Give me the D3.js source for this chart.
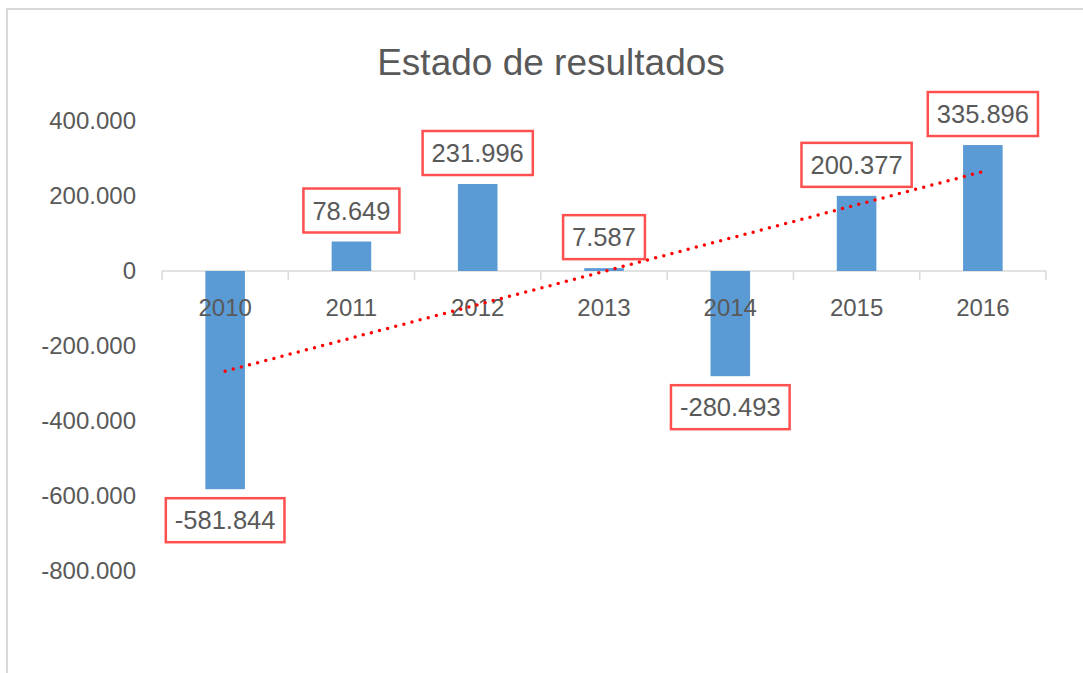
<!DOCTYPE html>
<html>
<head>
<meta charset="utf-8">
<script src="https://cdn.jsdelivr.net/npm/d3@7"></script>
<style>
  body { margin: 0; background: #fff; }
  text { font-family: "Liberation Sans", Arial, sans-serif; fill: #595959; }
</style>
</head>
<body>
<div id="graf"></div>
<script>
const anios = ["2010", "2011", "2012", "2013", "2014", "2015", "2016"]
const resultados = [-581844, 78649, 231996, 7587, -280493, 200377, 335896]
const ticksY = [400000, 200000, 0, -200000, -400000, -600000, -800000]

const anchoTotal = 1083
const altoTotal = 673

const svg = d3
  .select("#graf")
  .append("svg")
  .attr("width", anchoTotal)
  .attr("height", altoTotal)

svg
  .append("rect")
  .attr("width", anchoTotal)
  .attr("height", altoTotal)
  .attr("fill", "white")

// borde del area del grafico (se corta a la derecha y abajo)
svg
  .append("rect")
  .attr("x", 7)
  .attr("y", 9)
  .attr("width", 1200)
  .attr("height", 800)
  .attr("fill", "none")
  .attr("stroke", "#d9d9d9")
  .attr("stroke-width", 2)

svg
  .append("text")
  .attr("x", 551)
  .attr("y", 75)
  .attr("text-anchor", "middle")
  .attr("font-size", 37)
  .text("Estado de resultados")

const es = d3.formatLocale({
  decimal: ",",
  thousands: ".",
  grouping: [3],
  currency: ["", ""],
  minus: "-",
})
const fmt = es.format(",d")

const x = d3
  .scaleBand()
  .domain(anios)
  .range([162, 1046])
  .paddingInner(2.19 / 3.19)
  .paddingOuter(2.19 / 3.19 / 2)

const y = d3.scaleLinear().domain([-800000, 400000]).range([571, 121])

// eje Y (solo etiquetas)
const ejeY = svg
  .append("g")
  .attr("transform", "translate(136,0)")
  .call(d3.axisLeft(y).tickValues(ticksY).tickFormat(fmt).tickSize(0).tickPadding(0))
ejeY.select(".domain").remove()
ejeY
  .selectAll("text")
  .attr("font-family", null)
  .attr("font-size", 24)
  .attr("fill", "#595959")

// eje X en cero
const g0 = svg.append("g").attr("transform", `translate(0,${y(0)})`)
g0
  .append("line")
  .attr("x1", x.range()[0])
  .attr("x2", x.range()[1])
  .attr("stroke", "#d9d9d9")
  .attr("stroke-width", 1.5)
g0
  .selectAll(".sep")
  .data(d3.range(anios.length + 1))
  .join("line")
  .attr("x1", (i) => x.range()[0] + i * x.step())
  .attr("x2", (i) => x.range()[0] + i * x.step())
  .attr("y1", 0)
  .attr("y2", 9)
  .attr("stroke", "#d9d9d9")
  .attr("stroke-width", 1.5)

// barras
svg
  .selectAll(".barra")
  .data(resultados)
  .join("rect")
  .attr("x", (d, i) => x(anios[i]))
  .attr("y", (d) => y(Math.max(0, d)))
  .attr("width", x.bandwidth())
  .attr("height", (d) => Math.abs(y(d) - y(0)))
  .attr("fill", "#5b9bd5")

// etiquetas de categoria (encima de las barras)
svg
  .append("g")
  .attr("transform", `translate(0,${y(0)})`)
  .selectAll("text")
  .data(anios)
  .join("text")
  .attr("x", (d) => x(d) + x.bandwidth() / 2)
  .attr("y", 45)
  .attr("text-anchor", "middle")
  .attr("font-size", 24)
  .text((d) => d)

// linea de tendencia (regresion lineal)
const n = resultados.length
const xs = d3.range(1, n + 1)
const mx = d3.mean(xs)
const my = d3.mean(resultados)
const pend =
  d3.sum(xs, (v, i) => (v - mx) * (resultados[i] - my)) /
  d3.sum(xs, (v) => (v - mx) ** 2)
const tend = xs.map((v) => my + pend * (v - mx))

svg
  .append("path")
  .datum(tend)
  .attr(
    "d",
    d3
      .line()
      .x((d, i) => x(anios[i]) + x.bandwidth() / 2)
      .y((d) => y(d))
  )
  .attr("fill", "none")
  .attr("stroke", "#ff0000")
  .attr("stroke-width", 3.5)
  .attr("stroke-linecap", "round")
  .attr("stroke-dasharray", "0 8.4")

// etiquetas de datos con recuadro
const etiquetas = svg
  .selectAll(".etq")
  .data(resultados)
  .join("g")
  .attr("transform", (d, i) => {
    const cx = x(anios[i]) + x.bandwidth() / 2
    const cy = d >= 0 ? y(d) - 31 : y(d) + 31
    return `translate(${cx},${cy})`
  })

etiquetas
  .append("rect")
  .attr("fill", "white")
  .attr("stroke", "#ff5050")
  .attr("stroke-width", 2.5)

etiquetas
  .append("text")
  .attr("text-anchor", "middle")
  .attr("dy", "0.36em")
  .attr("font-size", 25.5)
  .text((d) => fmt(d))

etiquetas.each(function () {
  const t = d3.select(this).select("text").node().getBBox()
  d3.select(this)
    .select("rect")
    .attr("x", -t.width / 2 - 9)
    .attr("y", -22)
    .attr("width", t.width + 18)
    .attr("height", 44)
})
</script>
</body>
</html>
